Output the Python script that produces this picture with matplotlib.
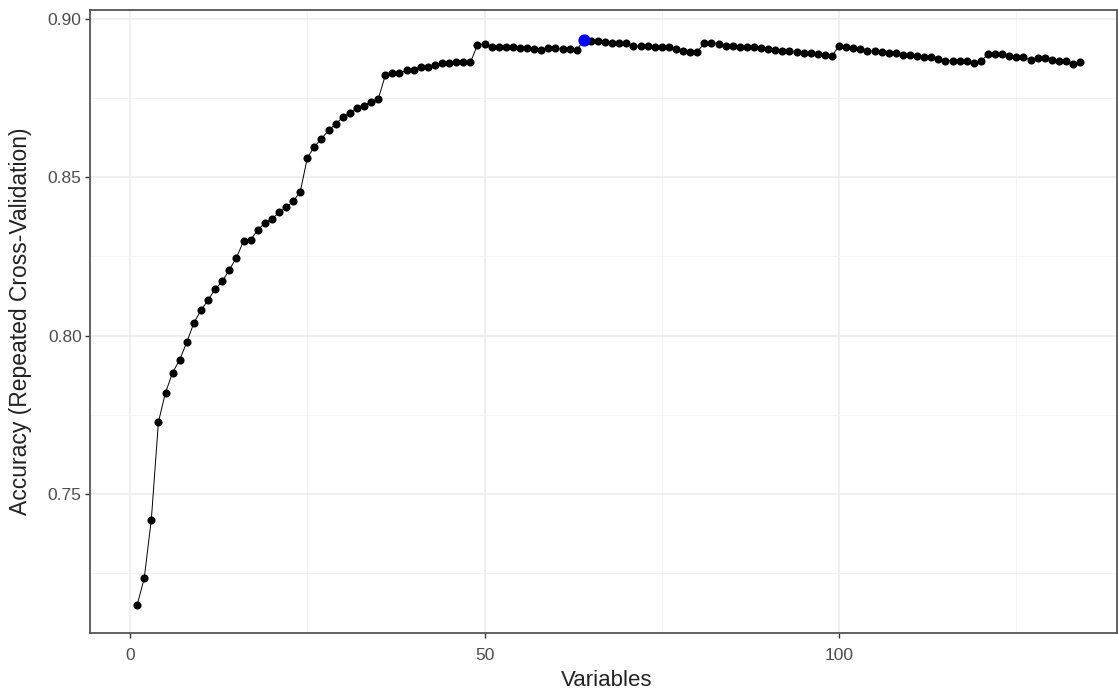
import matplotlib
matplotlib.use("Agg")
import matplotlib.pyplot as plt
import numpy as np

plt.rcParams['font.family'] = ['Liberation Sans', 'DejaVu Sans']

variables = list(range(1, 135))
accuracy = [
    0.7149, 0.7234, 0.7419, 0.7727, 0.7820, 0.7883, 0.7924, 0.7979, 0.8040, 0.8080,
    0.8112, 0.8147, 0.8171, 0.8208, 0.8246, 0.8298, 0.8302, 0.8334, 0.8355, 0.8368,
    0.8389, 0.8405, 0.8424, 0.8454, 0.8561, 0.8597, 0.8621, 0.8649, 0.8668, 0.8690,
    0.8704, 0.8718, 0.8726, 0.8739, 0.8747, 0.8822, 0.8828, 0.8828, 0.8839, 0.8839,
    0.8849, 0.8849, 0.8855, 0.8860, 0.8862, 0.8864, 0.8865, 0.8863, 0.8918, 0.8921,
    0.8913, 0.8913, 0.8913, 0.8913, 0.8907, 0.8907, 0.8905, 0.8902, 0.8907, 0.8907,
    0.8905, 0.8905, 0.8902, 0.8934, 0.8931, 0.8930, 0.8928, 0.8925, 0.8923, 0.8923,
    0.8915, 0.8915, 0.8915, 0.8913, 0.8911, 0.8910, 0.8905, 0.8898, 0.8896, 0.8897,
    0.8923, 0.8923, 0.8921, 0.8915, 0.8915, 0.8913, 0.8913, 0.8913, 0.8907, 0.8905,
    0.8902, 0.8900, 0.8900, 0.8895, 0.8892, 0.8892, 0.8889, 0.8886, 0.8883, 0.8915,
    0.8911, 0.8907, 0.8905, 0.8900, 0.8898, 0.8897, 0.8892, 0.8892, 0.8887, 0.8886,
    0.8882, 0.8881, 0.8880, 0.8873, 0.8868, 0.8868, 0.8868, 0.8866, 0.8862, 0.8867,
    0.8888, 0.8889, 0.8888, 0.8882, 0.8881, 0.8880, 0.8870, 0.8877, 0.8876, 0.8870,
    0.8866, 0.8868, 0.8858, 0.8863,
]
best_index = int(np.argmax(accuracy))

x_ticks = [0, 50, 100]
x_minor = [25, 75, 125]
y_ticks = [0.75, 0.80, 0.85, 0.90]
y_minor = [0.725, 0.775, 0.825, 0.875]

fig = plt.figure(figsize=(11.18, 6.91), dpi=100)
ax = fig.add_axes([90/1118, 58/691, 1027/1118, 623/691])

ax.set_xlim(-5.65, 139.2)
ax.set_ylim(0.70606, 0.90284)

ax.set_xticks(x_ticks)
ax.set_xticks(x_minor, minor=True)
ax.set_yticks(y_ticks)
ax.set_yticks(y_minor, minor=True)
ax.set_yticklabels([f"{v:.2f}" for v in y_ticks])

ax.grid(which='major', color='#EBEBEB', linewidth=1.1, zorder=0)
ax.grid(which='minor', color='#F2F2F2', linewidth=0.6, zorder=0)
ax.set_axisbelow(True)

for s in ax.spines.values():
    s.set_color('#555555')
    s.set_linewidth(1.3)

ax.tick_params(which='major', length=3.5, width=1.0, color='#333333',
               labelsize=12.5, labelcolor='#4D4D4D')
ax.tick_params(axis='x', which='major', pad=7)
ax.tick_params(axis='y', which='major', pad=2.5)
ax.tick_params(which='minor', length=0)

ax.plot(variables, accuracy, color='black', linewidth=0.7, zorder=2)
ax.scatter(variables, accuracy, s=34, color='black', zorder=3, linewidths=0)
ax.scatter([variables[best_index]], [accuracy[best_index]], s=78, color='#0000FF',
           zorder=4, linewidths=0)

ax.set_xlabel("Variables", fontsize=16, color='#222222')
ax.set_ylabel("Accuracy (Repeated Cross-Validation)", fontsize=16.5, color='#222222')
ax.xaxis.set_label_coords(517/1027, -(681 - 633)/623)
ax.yaxis.set_label_coords(-(90 - 21)/1027, 0.5)
ax.xaxis.label.set_va('center')
ax.yaxis.label.set_va('center')

fig.savefig("out.png", dpi=100)
